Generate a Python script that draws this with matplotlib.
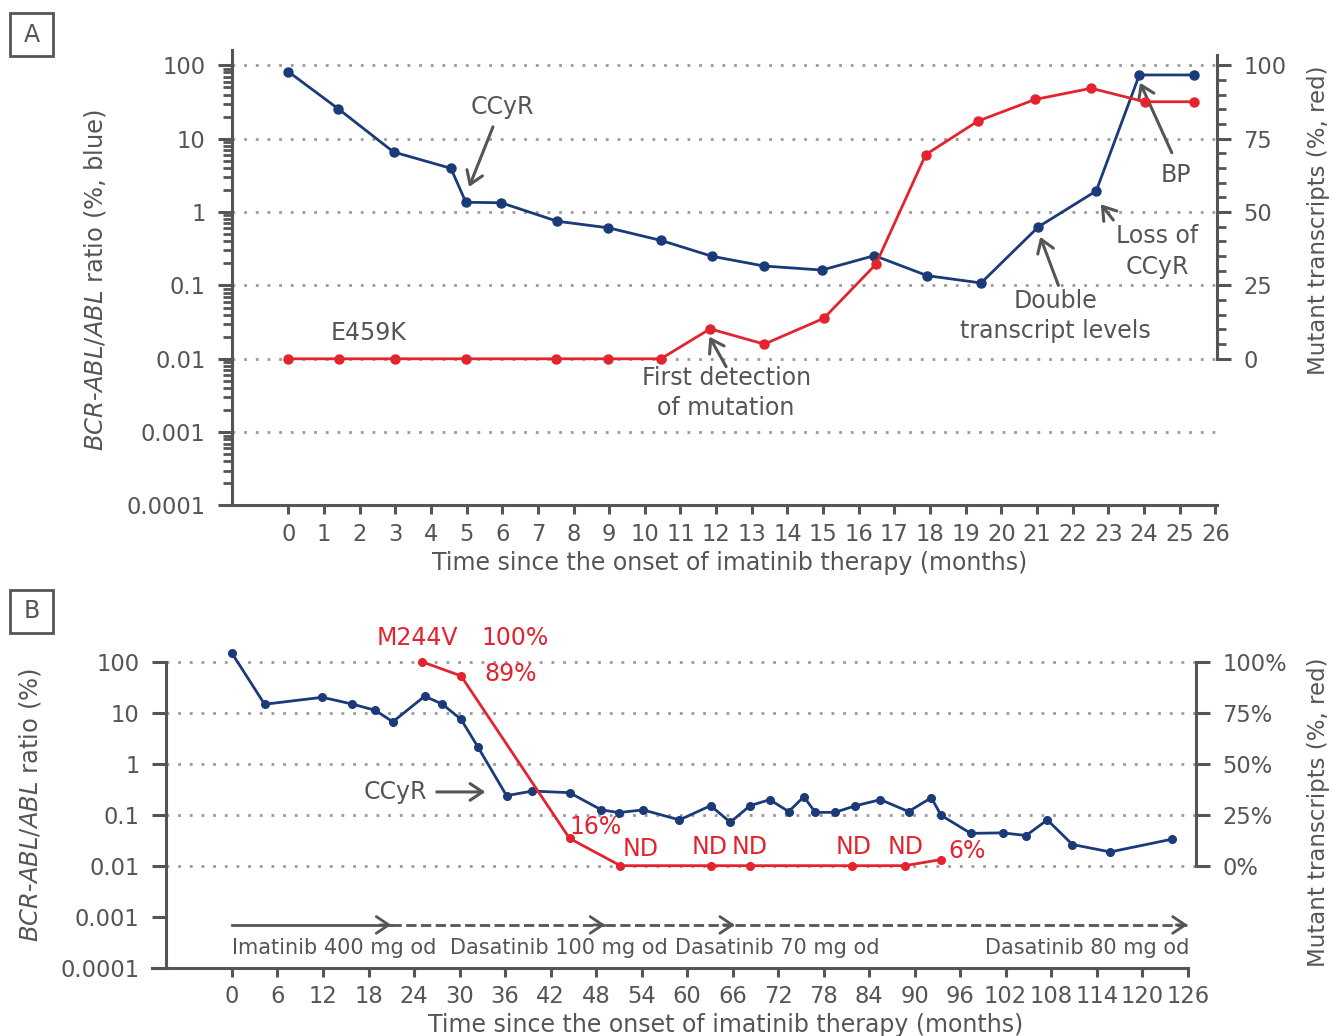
import numpy as np
import matplotlib.pyplot as plt
from matplotlib.patches import Rectangle
from matplotlib.ticker import NullLocator, FixedLocator

plt.rcParams['font.family'] = ['DejaVu Sans']
plt.rcParams['mathtext.fontset'] = 'dejavusans'

BLUE = '#1b3a7a'
RED = '#e3242f'
GREY = '#555555'
DOT = '#9a9a9a'

# ---- panel A data ----
a_blue_months = [0, 1.4, 2.95, 4.56, 4.98, 5.97, 7.54, 8.98, 10.46, 11.88, 13.34,
                 14.97, 16.44, 17.92, 19.43, 21.04, 22.66, 23.87, 25.39]
a_blue_ratio = [82, 25.6, 6.6, 3.95, 1.36, 1.34, 0.75, 0.61, 0.41, 0.25, 0.184,
                0.162, 0.255, 0.136, 0.108, 0.63, 1.94, 74, 74]
a_red_months = [0, 1.43, 2.99, 4.99, 7.51, 8.98, 10.45, 11.83, 13.35, 15.02,
                16.48, 17.88, 19.34, 20.95, 22.52, 24.02, 25.39]
a_red_mutant = [0, 0, 0, 0, 0, 0, 0, 10.2, 5.0, 13.8, 32.2, 69.6, 81.0, 88.4,
                92.2, 87.6, 87.6]
a_xticks = list(range(0, 27))
log_ticks = [0.0001, 0.001, 0.01, 0.1, 1, 10, 100]
log_labels = ['0.0001', '0.001', '0.01', '0.1', '1', '10', '100']

# ---- panel B data ----
b_blue_months = [0, 4.3, 11.9, 15.8, 18.9, 21.2, 25.4, 27.7, 30.2, 32.4,
                 36.2, 39.6, 44.5, 48.7, 51.0, 54.2, 59.0, 63.1, 65.7, 68.3,
                 70.9, 73.4, 75.4, 76.9, 79.5, 82.1, 85.5, 89.2, 92.2, 93.5,
                 97.4, 101.6, 104.7, 107.5, 110.8, 115.8, 123.9]
b_blue_ratio = [146, 14.6, 20, 14.8, 11.1, 6.6, 21, 14.8, 7.4, 2.15,
                0.236, 0.29, 0.27, 0.124, 0.11, 0.124, 0.079, 0.15, 0.071, 0.15,
                0.197, 0.115, 0.225, 0.111, 0.111, 0.148, 0.197, 0.115, 0.215, 0.097,
                0.043, 0.044, 0.039, 0.079, 0.026, 0.0186, 0.033]
b_red_months = [25.0, 30.2, 44.5, 51.2, 63.1, 68.3, 81.8, 88.7, 93.5]
b_red_mutant = [100, 93, 13.4, 0, 0, 0, 0, 0, 3]
b_xticks = list(range(0, 127, 6))

# red value labels in B (text, month, ratio-axis height)
b_red_notes = [('M244V', 24.5, 292), ('100%', 37.3, 292), ('89%', 36.7, 57),
               ('16%', 47.9, 0.058), ('ND', 53.9, 0.0212), ('ND', 63.0, 0.0236),
               ('ND', 68.3, 0.0236), ('ND', 81.9, 0.0236), ('ND', 88.8, 0.0236),
               ('6%', 96.9, 0.0197)]

# treatment periods in B
treat_start = [0, 21.0, 49.2, 66.3]
treat_end = [21.0, 49.2, 66.3, 126]
treat_style = ['-', '--', '--', '--']
treat_text = ['Imatinib 400 mg od', 'Dasatinib 100 mg od', 'Dasatinib 70 mg od',
              'Dasatinib 80 mg od']
treat_text_x = [0, 28.7, 58.4, 126.2]
treat_text_ha = ['left', 'left', 'left', 'right']

fig = plt.figure(figsize=(13.3, 10.36), dpi=100)

ARROW = dict(arrowstyle='->,head_length=0.45,head_width=0.3', color=GREY, lw=2.2,
             mutation_scale=20, shrinkA=0, shrinkB=0)
TICKSIZE = 16.3
LABELSIZE = 17
NOTESIZE = 17


def style_axes(ax, axr):
    for s in ['top', 'right']:
        ax.spines[s].set_visible(False)
    for s in ['top', 'left', 'bottom']:
        axr.spines[s].set_visible(False)
    for sp in [ax.spines['left'], ax.spines['bottom'], axr.spines['right']]:
        sp.set_color(GREY)
        sp.set_linewidth(2.2)
    ax.set_yscale('log')
    ax.set_yticks(log_ticks, log_labels)
    ax.tick_params(axis='y', which='major', length=10, width=2.2, color=GREY,
                   labelcolor=GREY, labelsize=TICKSIZE, pad=9)
    ax.tick_params(axis='y', which='minor', length=6.5, width=2, color=GREY)
    ax.tick_params(axis='x', length=6.5, width=2.2, color=GREY, labelcolor=GREY,
                   labelsize=TICKSIZE, pad=6)
    axr.tick_params(axis='y', which='major', length=10, width=2.2, color=GREY,
                    labelcolor=GREY, labelsize=TICKSIZE, pad=9)
    axr.tick_params(axis='y', which='minor', length=6.5, width=2, color=GREY)


def match_right(ax, axr):
    # 0 % on the right sits on 0.01 on the left, 100 % on 100
    lo, hi = np.log10(ax.get_ylim())
    f0 = (np.log10(0.01) - lo) / (hi - lo)
    f1 = (np.log10(100) - lo) / (hi - lo)
    span = 100 / (f1 - f0)
    axr.set_ylim(-f0 * span, -f0 * span + span)


# ================= Panel A =================
axA = fig.add_axes([232 / 1330, 1 - 505.5 / 1036, 984.7 / 1330, 455.5 / 1036])
axAr = axA.twinx()
style_axes(axA, axAr)
axA.set_xlim(-1.58, 26.04)
axA.set_ylim(0.0001, 162)
match_right(axA, axAr)
axA.set_xticks(a_xticks)
for v in log_ticks[1:]:
    axA.axhline(v, color=DOT, lw=2, ls=(0, (1, 3.2)), zorder=0)

axA.plot(a_blue_months, a_blue_ratio, color=BLUE, lw=2, marker='o', ms=6.5, zorder=3)
axAr.plot(a_red_months, a_red_mutant, color=RED, lw=2, marker='o', ms=6.5, zorder=3)
axAr.spines['right'].set_bounds(0, 103.7)
axAr.set_yticks([0, 25, 50, 75, 100])
axAr.yaxis.set_minor_locator(FixedLocator([v for v in range(5, 100, 5) if v % 25]))

axA.set_xlabel('Time since the onset of imatinib therapy (months)', fontsize=LABELSIZE,
               color=GREY)
axA.xaxis.set_label_coords(0.505, -0.1)

# annotations A
axA.text(6.0, 27, 'CCyR', fontsize=NOTESIZE, color=GREY, ha='center', va='center')
axA.annotate('', xy=(5.07, 2.2), xytext=(5.74, 14.5), arrowprops=ARROW)
axA.text(2.24, 0.0225, 'E459K', fontsize=NOTESIZE, color=GREY, ha='center', va='center')
axA.text(12.28, 0.0034, 'First detection\nof mutation', fontsize=NOTESIZE, color=GREY,
         ha='center', va='center', linespacing=1.32)
axA.annotate('', xy=(11.81, 0.02), xytext=(12.28, 0.0078), arrowprops=ARROW)
axA.text(21.51, 0.038, 'Double\ntranscript levels', fontsize=NOTESIZE, color=GREY,
         ha='center', va='center', linespacing=1.32)
axA.annotate('', xy=(21.09, 0.46), xytext=(21.6, 0.10), arrowprops=ARROW)
axA.text(24.37, 0.29, 'Loss of\nCCyR', fontsize=NOTESIZE, color=GREY,
         ha='center', va='center', linespacing=1.32)
axA.annotate('', xy=(22.79, 1.28), xytext=(23.14, 0.78), arrowprops=ARROW)
axA.text(24.9, 3.2, 'BP', fontsize=NOTESIZE, color=GREY, ha='center', va='center')
axA.annotate('', xy=(23.89, 58), xytext=(24.78, 6.46), arrowprops=ARROW)

fig.text(95 / 1330, 1 - 280 / 1036,
         r'$\mathit{BCR}$-$\mathit{ABL/ABL}$ ratio (%, blue)', rotation=90,
         fontsize=17.5, color=GREY, ha='center', va='center')
fig.text(1318 / 1330, 1 - 220 / 1036, 'Mutant transcripts (%, red)', rotation=90,
         fontsize=16.5, color=GREY, ha='center', va='center')

# ================= Panel B =================
axB = fig.add_axes([166 / 1330, 1 - 967.7 / 1036, 1030 / 1330, 337.7 / 1036])
axBr = axB.twinx()
style_axes(axB, axBr)
axB.set_xlim(-8.7, 127.1)
axB.set_ylim(0.0001, 417)
match_right(axB, axBr)
axB.yaxis.set_minor_locator(NullLocator())
axB.spines['left'].set_bounds(0.0001, 100)
axB.spines['bottom'].set_bounds(-10.5, 126)
axB.set_xticks(b_xticks)
for v in [0.01, 0.1, 1, 10, 100]:
    axB.axhline(v, color=DOT, lw=2, ls=(0, (1, 3.2)), zorder=0)

axB.plot(b_blue_months, b_blue_ratio, color=BLUE, lw=2, marker='o', ms=5.5, zorder=3)
axBr.plot(b_red_months, b_red_mutant, color=RED, lw=2, marker='o', ms=5.5, zorder=3)
axBr.spines['right'].set_bounds(0, 100)
axBr.set_yticks([0, 25, 50, 75, 100], ['0%', '25%', '50%', '75%', '100%'])

axB.set_xlabel('Time since the onset of imatinib therapy (months)', fontsize=LABELSIZE,
               color=GREY)
axB.xaxis.set_label_coords(0.543, -0.135)

for txt, m, v in b_red_notes:
    axB.text(m, v, txt, fontsize=NOTESIZE, color=RED, ha='center', va='center')

axB.text(21.5, 0.279, 'CCyR', fontsize=NOTESIZE, color=GREY, ha='center', va='center')
axB.annotate('', xy=(33.4, 0.279), xytext=(27.0, 0.279), arrowprops=ARROW)

y_arrow = 6.9e-4
y_treat = 2.45e-4
for x0, x1, ls in zip(treat_start, treat_end, treat_style):
    axB.plot([x0, x1], [y_arrow, y_arrow], color=GREY, lw=2, ls=ls)
    axB.annotate('', xy=(x1, y_arrow), xytext=(x1 - 1.5, y_arrow),
                 arrowprops=dict(ARROW, lw=2))
for txt, x, ha in zip(treat_text, treat_text_x, treat_text_ha):
    axB.text(x, y_treat, txt, fontsize=15, color=GREY, ha=ha, va='center')

fig.text(30 / 1330, 1 - 805 / 1036, r'$\mathit{BCR}$-$\mathit{ABL/ABL}$ ratio (%)',
         rotation=90, fontsize=17.5, color=GREY, ha='center', va='center')
fig.text(1318 / 1330, 1 - 812 / 1036, 'Mutant transcripts (%, red)', rotation=90,
         fontsize=16.5, color=GREY, ha='center', va='center')

# panel letters
for letter, top in [('A', 13), ('B', 590)]:
    fig.patches.append(Rectangle((10 / 1330, 1 - (top + 43) / 1036), 43 / 1330, 43 / 1036,
                                 transform=fig.transFigure, fill=False,
                                 edgecolor=GREY, lw=2))
    fig.text(31.5 / 1330, 1 - (top + 21.5) / 1036, letter, fontsize=17, color=GREY,
             ha='center', va='center')

fig.savefig('out.png', dpi=100)
